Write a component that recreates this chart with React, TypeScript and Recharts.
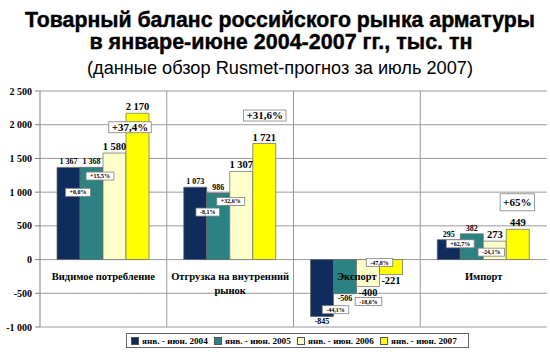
import React from "react";
import { BarChart, Bar, XAxis, YAxis, CartesianGrid, LabelList, ReferenceDot } from "recharts";

// ---- data ----
const categories = ["Видимое потребление", "Отгрузка на внутренний рынок", "Экспорт", "Импорт"];
const v2004 = [1367, 1073, -845, 295];
const v2005 = [1368, 986, -506, 382];
const v2006 = [1580, 1307, -400, 273];
const v2007 = [2170, 1721, -221, 449];
const growth2005 = ["+0,0%", "-8,1%", "-44,1%", "+62,7%"];
const growth2006 = ["+15,5%", "+32,6%", "-18,6%", "-24,1%"];
const growth2007 = ["+37,4%", "+31,6%", "-47,8%", "+65%"];
const seriesNames = ["янв. - июн. 2004", "янв. - июн. 2005", "янв. - июн. 2006", "янв. - июн. 2007"];
const yTicks = [-1000, -500, 0, 500, 1000, 1500, 2000, 2500];
const titleLines = [
  "Товарный баланс российского рынка арматуры",
  "в январе-июне 2004-2007 гг., тыс. тн",
  "(данные обзор Rusmet-прогноз за июль 2007)",
];

// ---- layout / style (not data) ----
const SERIF = "Liberation Serif";
const SANS = "Liberation Sans";
const colors = ["#0F2C5C", "#2A8282", "#FFFFCC", "#FFFF00"];
const valueFont = [8, 8, 10.5, 10.5];
// growth box placement relative to bar's left edge / value end (px)
const boxOffsets2005 = [{ dx: -2, dy: 25 }, { dx: 1, dy: 19 }, { dx: 2, dy: 16 }, { dx: 0, dy: 10 }];
const boxOffsets2006 = [{ dx: -3, dy: 23 }, { dx: 1, dy: 30 }, { dx: 12, dy: 15 }, { dx: 8, dy: 11 }];
const boxOffsets2007 = [{ dx: 4, dy: 14, h: 11 }, { dx: 12, dy: -28, h: 11 }, { dx: 0, dy: -12, h: 8 }, { dx: 11, dy: -27, h: 17 }];
const boxFont2007 = [11, 11, 6, 11];

const data = categories.map((name, i) => ({
  name,
  y2004: v2004[i],
  y2005: v2005[i],
  y2006: v2006[i],
  y2007: v2007[i],
}));

const fmt = (n: number) => {
  const s = Math.abs(n).toString();
  const body = s.length > 3 ? s.slice(0, s.length - 3) + " " + s.slice(s.length - 3) : s;
  return (n < 0 ? "-" : "") + body;
};

const charW: Record<string, number> = { "+": 0.57, "-": 0.333, ",": 0.25, "%": 1.0 };
const textWidth = (t: string, fs: number) =>
  t.split("").reduce((a, c) => a + (charW[c] ?? 0.5), 0) * fs;

const geom = (props: any) => {
  const vb = props.viewBox && props.viewBox.width !== undefined ? props.viewBox : props;
  const x = Number(vb.x);
  const y = Number(vb.y);
  const w = Number(vb.width);
  const h = Number(vb.height);
  return { x, w, top: Math.min(y, y + h), bottom: Math.max(y, y + h) };
};

const makeValueLabel = (fs: number) => (props: any) => {
  const value = Number(props.value);
  const { x, w, top, bottom } = geom(props);
  const cx = x + w / 2;
  const y = value >= 0 ? top - 3 : bottom + 2 + fs * 0.72;
  return (
    <text x={cx} y={y} textAnchor="middle" fontSize={fs} fontWeight="bold" fontFamily={SERIF} fill="#000">
      {fmt(value)}
    </text>
  );
};

const makeGrowthBox = (texts: string[], offsets: any[], fonts: number[] | number) => (props: any) => {
  const i = props.index as number;
  const t = texts[i];
  if (!t) return null;
  const value = Number(props.value);
  const { x, top, bottom } = geom(props);
  const end = value >= 0 ? top : bottom;
  const o = offsets[i];
  const fs = Array.isArray(fonts) ? fonts[i] : fonts;
  const cx = x + o.dx;
  const cy = end + o.dy;
  const w = textWidth(t, fs) + (fs > 8 ? 6 : 8);
  const h = o.h ?? fs + 2;
  return (
    <g>
      <rect x={cx - w / 2} y={cy - h / 2} width={w} height={h} fill="#fff" stroke="#808080" strokeWidth={0.8} />
      <text x={cx} y={cy + fs * 0.34} textAnchor="middle" fontSize={fs} fontWeight="bold" fontFamily={SERIF} fill="#000">
        {t}
      </text>
    </g>
  );
};

const wrap = (s: string, max: number) => {
  const words = s.split(" ");
  const lines: string[] = [];
  let cur = "";
  for (const wd of words) {
    const next = cur ? cur + " " + wd : wd;
    if (next.length > max && cur) {
      lines.push(cur);
      cur = wd;
    } else cur = next;
  }
  if (cur) lines.push(cur);
  return lines;
};

const CategoryLabel = (text: string) => (props: any) => {
  const vb = props.viewBox || {};
  const cx = Number(vb.x) + Number(vb.width || 0) / 2;
  const cy = Number(vb.y) + Number(vb.height || 0) / 2;
  const lines = wrap(text, 22);
  return (
    <text x={cx} y={cy + 20} textAnchor="middle" fontSize={10.5} fontWeight="bold" fontFamily={SERIF} fill="#000">
      {lines.map((l, k) => (
        <tspan key={k} x={cx} dy={k === 0 ? 0 : 14}>
          {l}
        </tspan>
      ))}
    </text>
  );
};

const YTick = (props: any) => {
  const { x, y, payload } = props;
  return (
    <text x={x} y={y + 3.5} textAnchor="end" fontSize={10} fontWeight="bold" fontFamily={SERIF} fill="#000">
      {fmt(payload.value)}
    </text>
  );
};

const series = [
  { key: "y2004", growth: null as any },
  { key: "y2005", growth: makeGrowthBox(growth2005, boxOffsets2005, 6) },
  { key: "y2006", growth: makeGrowthBox(growth2006, boxOffsets2006, 6) },
  { key: "y2007", growth: makeGrowthBox(growth2007, boxOffsets2007, boxFont2007) },
];

export default function App() {
  return (
    <div style={{ position: "absolute", left: 0, top: 0, width: 550, height: 352, background: "#fff" }}>
      <svg width={550} height={80} style={{ position: "absolute", left: 0, top: 0 }}>
        <text x={280} y={27} textAnchor="middle" fontSize={21.3} fontWeight="bold" fontFamily={SANS} fill="#000" stroke="#000" strokeWidth={0.4}>
          {titleLines[0]}
        </text>
        <text x={281} y={49} textAnchor="middle" fontSize={21.5} fontWeight="bold" fontFamily={SANS} fill="#000" stroke="#000" strokeWidth={0.4}>
          {titleLines[1]}
        </text>
        <text x={280} y={74} textAnchor="middle" fontSize={18.2} fontFamily={SANS} fill="#000">
          {titleLines[2]}
        </text>
      </svg>
      <div style={{ position: "absolute", left: 0, top: 0 }}>
        <BarChart width={550} height={352} data={data} margin={{ top: 91, right: 3, bottom: 25, left: 0 }} barGap={0}>
          <CartesianGrid
            stroke="#9a9a9a"
            strokeWidth={1}
            verticalCoordinatesGenerator={({ offset }: any) => [1, 2, 3].map((k) => offset.left + (offset.width * k) / 4)}
          />
          <XAxis dataKey="name" hide />
          <YAxis
            width={40}
            domain={[-1000, 2500]}
            ticks={yTicks}
            interval={0}
            tickSize={5}
            tickMargin={3}
            axisLine={{ stroke: "#808080" }}
            tickLine={{ stroke: "#808080" }}
            tick={<YTick />}
          />
          {series.map((s, i) => (
            <Bar key={s.key} dataKey={s.key} name={seriesNames[i]} fill={colors[i]} stroke="#666" strokeWidth={0.7} barSize={23} isAnimationActive={false}>
              <LabelList dataKey={s.key} content={makeValueLabel(valueFont[i])} />
              {s.growth ? <LabelList dataKey={s.key} content={s.growth} /> : null}
            </Bar>
          ))}
          {categories.map((c) => (
            <ReferenceDot key={c} x={c} y={0} r={0} fill="none" stroke="none" label={CategoryLabel(c)} ifOverflow="visible" />
          ))}
        </BarChart>
      </div>
      <div
        style={{
          position: "absolute",
          left: 126,
          top: 333,
          width: 343,
          height: 15,
          boxSizing: "border-box",
          border: "1px solid #666",
          display: "flex",
          alignItems: "center",
          paddingLeft: 4,
          fontFamily: SERIF,
          fontWeight: "bold",
          fontSize: 9.2,
          background: "#fff",
        }}
      >
        {seriesNames.map((n, i) => (
          <div key={n} style={{ width: 83, flex: "0 0 83px", display: "flex", alignItems: "center", whiteSpace: "nowrap" }}>
            <span style={{ display: "inline-block", width: 6, height: 6, background: colors[i], border: "1px solid #555", marginRight: 3 }} />
            <span>{n}</span>
          </div>
        ))}
      </div>
    </div>
  );
}
